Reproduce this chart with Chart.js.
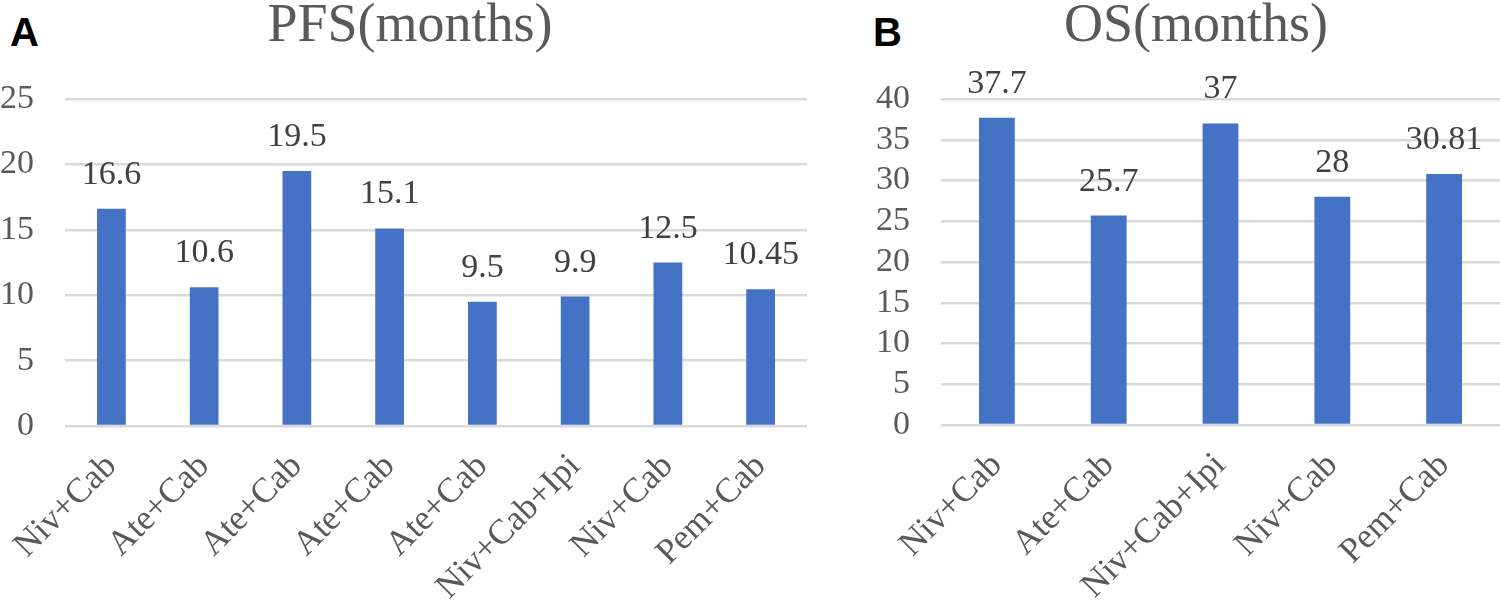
<!DOCTYPE html>
<html>
<head>
<meta charset="utf-8">
<script src="https://cdn.jsdelivr.net/npm/chart.js@4"></script>
<style>
    body { margin: 0; background: #fff; width: 1500px; height: 603px; position: relative; overflow: hidden; }
    .panel { position: absolute; }
    .letter { position: absolute; font: bold 40px "Liberation Sans", Arial, sans-serif; line-height: 40px; color: #000; }
    .title { position: absolute; font: 54px "Liberation Serif", "Times New Roman", serif; line-height: 54px; color: #595959; white-space: nowrap; transform: translateX(-50%); }
</style>
</head>
<body>
<div class="letter" style="left:10px; top:12px;">A</div>
<div class="title" style="left:410px; top:-4px;">PFS(months)</div>
<div class="letter" style="left:873px; top:12px;">B</div>
<div class="title" style="left:1196px; top:-4px;">OS(months)</div>

<div class="panel" style="left:0; top:0; width:820px; height:603px;"><canvas id="pfsChart"></canvas></div>
<div class="panel" style="left:860px; top:0; width:640px; height:603px;"><canvas id="osChart"></canvas></div>

<script>
// Data
const pfsLabels = ['Niv+Cab', 'Ate+Cab', 'Ate+Cab', 'Ate+Cab', 'Ate+Cab', 'Niv+Cab+Ipi', 'Niv+Cab', 'Pem+Cab'];
const pfsValues = [16.6, 10.6, 19.5, 15.1, 9.5, 9.9, 12.5, 10.45];
const pfsTicks = [0, 5, 10, 15, 20, 25];

const osLabels = ['Niv+Cab', 'Ate+Cab', 'Niv+Cab+Ipi', 'Niv+Cab', 'Pem+Cab'];
const osValues = [37.7, 25.7, 37, 28, 30.81];
const osTicks = [0, 5, 10, 15, 20, 25, 30, 35, 40];

const BAR_COLOR = '#4472C4';
const TEXT_COLOR = '#595959';
const SERIF = '"Liberation Serif", "Times New Roman", serif';

// Draws the value above each bar
const valueLabels = {
    id: 'valueLabels',
    afterDatasetsDraw(chart) {
        const ctx = chart.ctx;
        const meta = chart.getDatasetMeta(0);
        const values = chart.data.datasets[0].data;
        ctx.save();
        ctx.font = '34px ' + SERIF;
        ctx.fillStyle = '#404040';
        ctx.textAlign = 'center';
        ctx.textBaseline = 'alphabetic';
        meta.data.forEach((bar, i) => {
            ctx.fillText(String(values[i]), bar.x, bar.y - 25);
        });
        ctx.restore();
    }
};

function makeChart(id, labels, values, ticks, opts) {
    const ctx = document.getElementById(id).getContext('2d');
    return new Chart(ctx, {
        type: 'bar',
        data: {
            labels: labels,
            datasets: [{
                data: values,
                backgroundColor: BAR_COLOR,
                borderWidth: 0,
                barPercentage: opts.barPct,
                categoryPercentage: 1
            }]
        },
        options: {
            responsive: true,
            maintainAspectRatio: false,
            animation: false,
            layout: { padding: { top: 99, right: opts.padRight, bottom: 0, left: 0 } },
            plugins: {
                legend: { display: false },
                tooltip: { enabled: false },
                title: { display: false }
            },
            scales: {
                x: {
                    grid: { display: false, drawTicks: false },
                    border: { display: false },
                    ticks: {
                        minRotation: 45,
                        maxRotation: 45,
                        autoSkip: false,
                        padding: 20,
                        color: TEXT_COLOR,
                        font: { family: SERIF, size: 35 }
                    },
                    afterFit(scale) {
                        scale.height = opts.xHeight;
                        // rotated labels may hang past the plot edge; don't let that shift the plot
                        scale.paddingLeft = 0;
                        scale.paddingRight = 0;
                    }
                },
                y: {
                    min: 0,
                    max: ticks[ticks.length - 1],
                    afterBuildTicks(scale) { scale.ticks = ticks.map(v => ({ value: v })); },
                    grid: { color: '#d9d9d9', lineWidth: 2.5, drawTicks: false },
                    border: { display: false },
                    ticks: {
                        autoSkip: false,
                        padding: 31,
                        color: TEXT_COLOR,
                        font: { family: SERIF, size: 34 }
                    },
                    afterFit(scale) { scale.width = opts.yWidth; }
                }
            }
        },
        plugins: [valueLabels]
    });
}

makeChart('pfsChart', pfsLabels, pfsValues, pfsTicks, { barPct: 0.31, padRight: 13, yWidth: 65, xHeight: 177 });
makeChart('osChart', osLabels, osValues, osTicks, { barPct: 0.32, padRight: 0, yWidth: 81, xHeight: 178 });
</script>
</body>
</html>
